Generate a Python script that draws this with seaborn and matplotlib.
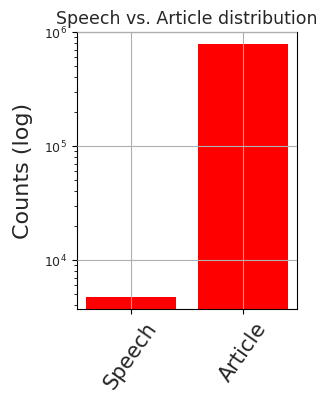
import matplotlib
matplotlib.use("Agg")
import matplotlib.pyplot as plt
import seaborn as sns
import pandas as pd

categories = ["Speech", "Article"]
counts = [4730, 785000]

df = pd.DataFrame({"type": categories, "count": counts})

plt.rcParams["text.color"] = "#262626"
plt.rcParams["xtick.labelcolor"] = "#262626"
plt.rcParams["ytick.labelcolor"] = "#262626"
plt.rcParams["axes.labelcolor"] = "#262626"

fig = plt.figure(figsize=(3.2, 3.94), dpi=100)
ax = fig.add_axes([77 / 320, 1 - 309 / 394, 220 / 320, 277 / 394])
sns.barplot(data=df, x="type", y="count", color="red", saturation=1, width=0.8, ax=ax)
ax.set_yscale("log")
ax.set_ylim(3720, 1e6)
ax.set_xlim(-0.48, 1.48)
ax.grid(True, color="#b0b0b0", linewidth=0.8)
ax.set_axisbelow(False)
ax.set_title("Speech vs. Article distribution", fontsize=12.5, pad=6)
ax.set_xlabel("")
ax.set_ylabel("Counts (log)", fontsize=16, labelpad=8)
ax.tick_params(axis="y", labelsize=9)
ax.tick_params(axis="x", labelsize=15)
plt.setp(ax.get_xticklabels(), rotation=55, ha="center", rotation_mode="default")

fig.savefig("out.png", dpi=100)
